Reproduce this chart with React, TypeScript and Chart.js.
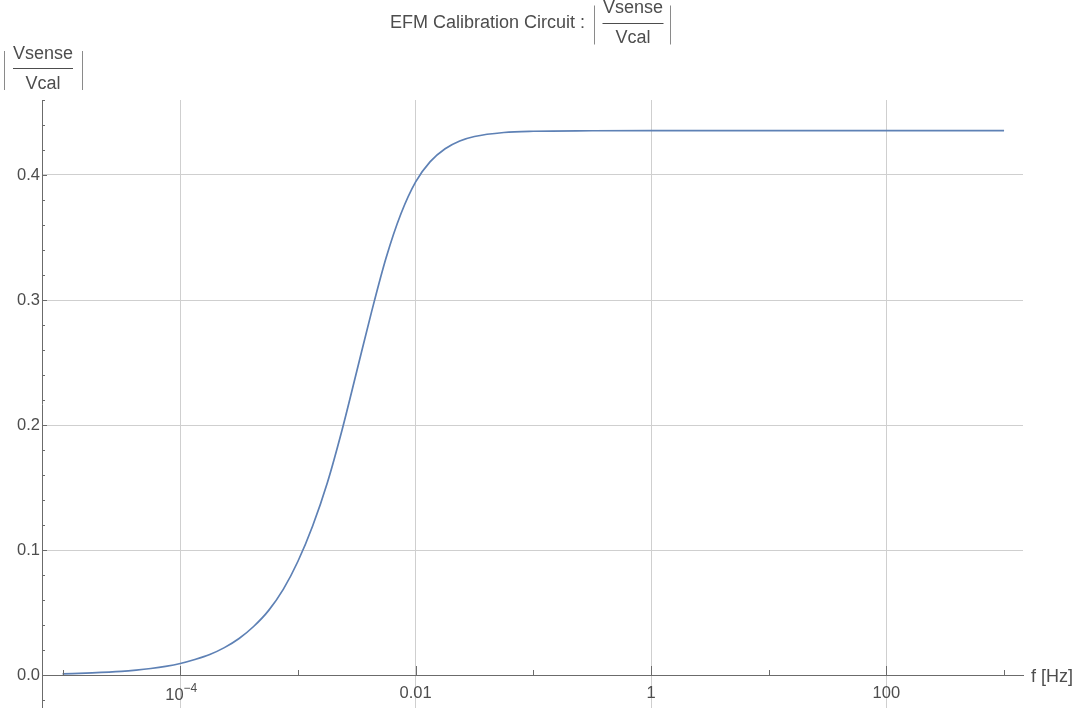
import React, { useEffect, useRef } from 'react';
import { Chart, registerables } from 'chart.js';

Chart.register(...registerables);

// ---- data ----
const FREQ_HZ = [
  1e-5, 1.78e-5, 3.16e-5, 4.22e-5, 5.62e-5, 7.5e-5, 1e-4, 1.33e-4, 1.78e-4, 2.37e-4, 3.16e-4, 4.22e-4,
  5.62e-4, 7.5e-4, 1e-3, 1.33e-3, 1.78e-3, 2.37e-3, 3.16e-3, 4.22e-3, 5.62e-3, 7.5e-3,
  0.01, 0.0133, 0.0178, 0.0237, 0.0316, 0.0562, 0.1, 0.316, 1, 10, 100, 1000,
];
const MAGNITUDE = [
  0.0009, 0.0017, 0.0029, 0.0039, 0.0052, 0.0069, 0.0092, 0.0124, 0.0164, 0.0219, 0.0292, 0.039,
  0.0515, 0.0685, 0.091, 0.119, 0.154, 0.196, 0.243, 0.2905, 0.334, 0.369,
  0.3945, 0.4107, 0.421, 0.4272, 0.4308, 0.434, 0.435, 0.4354, 0.4355, 0.4355, 0.4355, 0.4355,
];

const X_TICK_VALUES = [1e-5, 1e-4, 1e-3, 1e-2, 1e-1, 1, 10, 100, 1000];
// '10^-4' is drawn as base + superscript; the others are plain labels
const X_TICK_LABELS = ['', '10^-4', '', '0.01', '', '1', '', '100', ''];
const Y_TICK_VALUES = [
  -0.02, 0, 0.02, 0.04, 0.06, 0.08, 0.1, 0.12, 0.14, 0.16, 0.18, 0.2, 0.22, 0.24,
  0.26, 0.28, 0.3, 0.32, 0.34, 0.36, 0.38, 0.4, 0.42, 0.44, 0.46,
];
const Y_LABEL_VALUES = [0, 0.1, 0.2, 0.3, 0.4];
const Y_TICK_LABELS = ['0.0', '0.1', '0.2', '0.3', '0.4'];

const TITLE_TEXT = 'EFM Calibration Circuit :';
const FRAC_NUM = 'Vsense';
const FRAC_DEN = 'Vcal';
const X_AXIS_LABEL = 'f [Hz]';

// ---- styling ----
const X_MIN = Math.pow(10, -5.175);
const X_MAX = Math.pow(10, 3.161);
const Y_MIN = -0.0264;
const Y_MAX = 0.46;
const FONT = '"Liberation Sans", Arial, sans-serif';
const TICK_FONT_SIZE = 16.5;
const TEXT_COLOR = '#4d4d4d';
const AXIS_COLOR = '#6b6b6b';
const GRID_COLOR = '#cfcfcf';
const LINE_COLOR = '#5E81B5';

const near = (a: number, b: number) => Math.abs(a - b) < 1e-9;
const yLabelIndex = (v: number) => Y_LABEL_VALUES.findIndex((t) => near(t, v));
const xLabelIndex = (v: number) => X_TICK_VALUES.findIndex((t) => Math.abs(t - v) / t < 1e-6);

function drawFraction(ctx: CanvasRenderingContext2D, cx: number, lineY: number, halfW: number, barL: number, barR: number) {
  ctx.save();
  ctx.font = `18px ${FONT}`;
  ctx.fillStyle = TEXT_COLOR;
  ctx.textAlign = 'center';
  ctx.textBaseline = 'alphabetic';
  ctx.fillText(FRAC_NUM, cx, lineY - 9.5);
  ctx.fillText(FRAC_DEN, cx, lineY + 20.5);
  ctx.strokeStyle = TEXT_COLOR;
  ctx.lineWidth = 1;
  ctx.beginPath();
  ctx.moveTo(cx - halfW, Math.round(lineY) + 0.5);
  ctx.lineTo(cx + halfW, Math.round(lineY) + 0.5);
  ctx.stroke();
  ctx.strokeStyle = '#8a8a8a';
  ctx.beginPath();
  ctx.moveTo(barL + 0.5, lineY - 17);
  ctx.lineTo(barL + 0.5, lineY + 22);
  ctx.moveTo(barR + 0.5, lineY - 17);
  ctx.lineTo(barR + 0.5, lineY + 22);
  ctx.stroke();
  ctx.restore();
}

const decorPlugin = {
  id: 'decor',
  afterDraw(chart: any) {
    const ctx: CanvasRenderingContext2D = chart.ctx;
    const xs = chart.scales.x;
    const ys = chart.scales.y;
    const y0 = ys.getPixelForValue(0);
    const x0 = chart.chartArea.left;
    ctx.save();
    ctx.strokeStyle = AXIS_COLOR;
    ctx.lineWidth = 1;
    ctx.beginPath();
    X_TICK_VALUES.forEach((v, i) => {
      const px = Math.round(xs.getPixelForValue(v)) + 0.5;
      const len = X_TICK_LABELS[i] ? 9 : 5;
      ctx.moveTo(px, y0);
      ctx.lineTo(px, y0 - len);
    });
    Y_TICK_VALUES.forEach((v) => {
      const py = Math.round(ys.getPixelForValue(v)) + 0.5;
      const len = near(v * 10, Math.round(v * 10)) ? 5 : 3;
      ctx.moveTo(x0, py);
      ctx.lineTo(x0 + len, py);
    });
    ctx.stroke();

    // power-of-ten tick labels with a real superscript
    ctx.fillStyle = TEXT_COLOR;
    ctx.textBaseline = 'alphabetic';
    X_TICK_VALUES.forEach((v, i) => {
      const lab = X_TICK_LABELS[i];
      if (!lab.includes('^')) return;
      const [base, exp] = lab.split('^');
      const expText = exp.replace('-', '\u2212');
      ctx.font = `${TICK_FONT_SIZE}px ${FONT}`;
      const wb = ctx.measureText(base).width;
      ctx.font = `12px ${FONT}`;
      const we = ctx.measureText(expText).width;
      const px = xs.getPixelForValue(v);
      const left = px - (wb + we) / 2 + 1;
      const baseY = y0 + 25;
      ctx.font = `${TICK_FONT_SIZE}px ${FONT}`;
      ctx.textAlign = 'left';
      ctx.fillText(base, left, baseY);
      ctx.font = `12px ${FONT}`;
      ctx.fillText(expText, left + wb, baseY - 8);
    });

    // axis label
    ctx.font = `18px ${FONT}`;
    ctx.fillStyle = TEXT_COLOR;
    ctx.textAlign = 'left';
    ctx.fillText(X_AXIS_LABEL, 1031, 682);

    // title
    ctx.textAlign = 'right';
    ctx.fillText(TITLE_TEXT, 585, 28);
    ctx.restore();

    drawFraction(ctx, 633, 22.5, 30.5, 594, 670);
    drawFraction(ctx, 43, 68, 30, 4, 82);
  },
};

export default function App() {
  const canvasRef = useRef<HTMLCanvasElement | null>(null);

  useEffect(() => {
    const canvas = canvasRef.current;
    if (!canvas) return;
    const points = FREQ_HZ.map((f, i) => ({ x: f, y: MAGNITUDE[i] }));
    const chart = new Chart(canvas, {
      type: 'line',
      data: {
        datasets: [
          {
            data: points,
            borderColor: LINE_COLOR,
            borderWidth: 1.7,
            pointRadius: 0,
            fill: false,
            cubicInterpolationMode: 'monotone',
          },
        ],
      },
      options: {
        animation: false,
        responsive: false,
        devicePixelRatio: 1,
        layout: { padding: { left: 0, top: 100, right: 53, bottom: 0 } },
        plugins: {
          legend: { display: false },
          title: { display: false },
          tooltip: { enabled: false },
        },
        scales: {
          x: {
            type: 'logarithmic',
            position: { y: 0 } as any,
            min: X_MIN,
            max: X_MAX,
            afterBuildTicks: (scale: any) => {
              scale.ticks = X_TICK_VALUES.map((v) => ({ value: v }));
            },
            afterFit: (scale: any) => {
              scale.paddingLeft = 0;
              scale.paddingRight = 0;
              scale.paddingTop = 0;
              scale.paddingBottom = 0;
            },
            ticks: {
              autoSkip: false,
              maxRotation: 0,
              padding: 10,
              color: TEXT_COLOR,
              font: { family: FONT, size: TICK_FONT_SIZE, lineHeight: 1 },
              callback: (value: any) => {
                const i = xLabelIndex(Number(value));
                if (i < 0) return '';
                const lab = X_TICK_LABELS[i];
                return lab.includes('^') ? '' : lab;
              },
            },
            grid: {
              drawTicks: false,
              lineWidth: 1,
              color: (c: any) => {
                const v = c.tick ? c.tick.value : NaN;
                const i = xLabelIndex(v);
                return i >= 0 && X_TICK_LABELS[i] ? GRID_COLOR : 'rgba(0,0,0,0)';
              },
            },
            border: { display: true, color: AXIS_COLOR, width: 1 },
          },
          y: {
            type: 'linear',
            position: 'left',
            min: Y_MIN,
            max: Y_MAX,
            afterBuildTicks: (scale: any) => {
              scale.ticks = Y_TICK_VALUES.map((v) => ({ value: v }));
            },
            afterFit: (scale: any) => {
              scale.width = 42;
              scale.paddingLeft = 0;
              scale.paddingRight = 0;
              scale.paddingTop = 0;
              scale.paddingBottom = 0;
            },
            ticks: {
              autoSkip: false,
              padding: 2,
              color: TEXT_COLOR,
              font: { family: FONT, size: TICK_FONT_SIZE, lineHeight: 1 },
              callback: (value: any) => {
                const i = yLabelIndex(Number(value));
                return i >= 0 ? Y_TICK_LABELS[i] : '';
              },
            },
            grid: {
              drawTicks: false,
              lineWidth: 1,
              color: (c: any) => {
                const v = c.tick ? c.tick.value : NaN;
                const i = yLabelIndex(v);
                return i > 0 ? GRID_COLOR : 'rgba(0,0,0,0)';
              },
            },
            border: { display: true, color: AXIS_COLOR, width: 1 },
          },
        },
      } as any,
      plugins: [decorPlugin],
    });
    return () => chart.destroy();
  }, []);

  return (
    <div style={{ position: 'fixed', left: 0, top: 0, width: 1076, height: 708, background: '#fff' }}>
      <canvas ref={canvasRef} width={1076} height={708} style={{ display: 'block' }} />
    </div>
  );
}
